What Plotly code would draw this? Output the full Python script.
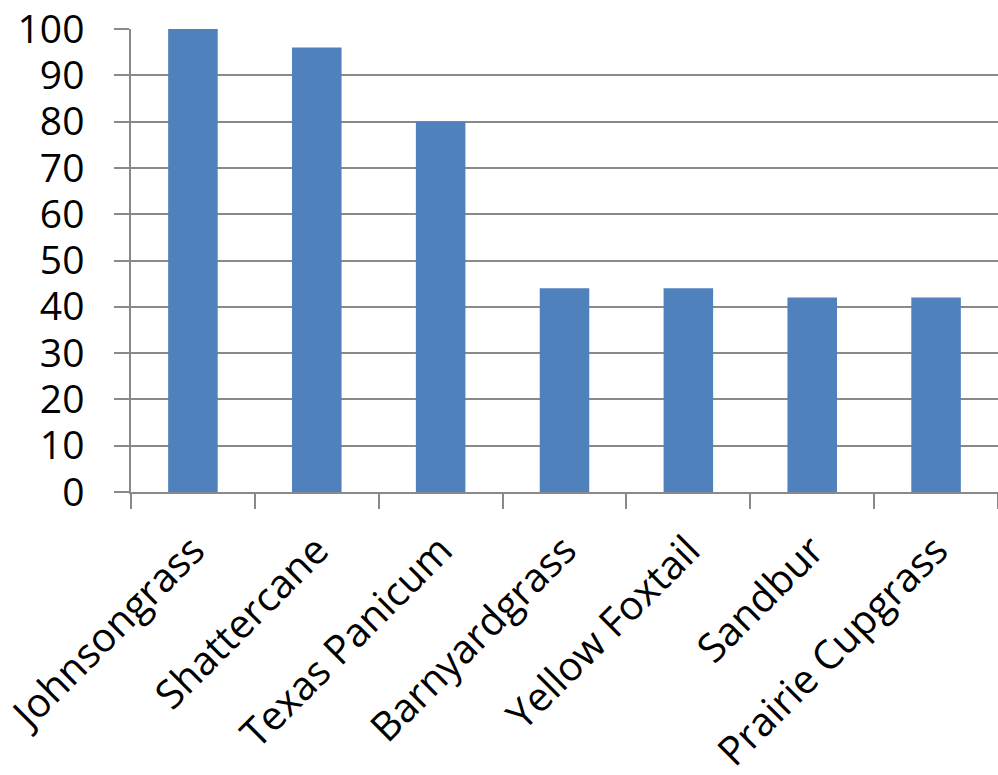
import plotly.graph_objects as go

categories = ["Johnsongrass", "Shattercane", "Texas Panicum", "Barnyardgrass",
              "Yellow Foxtail", "Sandbur", "Prairie Cupgrass"]
values = [100, 96, 80, 44, 44, 42, 42]
y_ticks = [0, 10, 20, 30, 40, 50, 60, 70, 80, 90, 100]

grid = "#898989"
font_family = "Open Sans"

fig = go.Figure(go.Bar(
    x=categories, y=values,
    marker=dict(color="#4F81BD", line=dict(width=0)),
    width=0.4,
))

fig.update_layout(
    width=998, height=775,
    margin=dict(l=131, r=0, t=29, b=283),
    paper_bgcolor="white", plot_bgcolor="white",
    showlegend=False,
    font=dict(family=font_family, size=40, color="black"),
)
fig.update_yaxes(
    range=[0, 100], tickvals=y_ticks,
    automargin=False,
    showgrid=True, gridcolor=grid, gridwidth=1.5,
    showline=True, linecolor=grid, linewidth=1.5,
    ticks="outside", ticklen=15, tickcolor=grid, tickwidth=1.5,
    ticklabelstandoff=22,
    zeroline=False,
    tickfont=dict(family=font_family, size=39, color="black"),
)
fig.update_xaxes(
    automargin=False,
    showgrid=False,
    showline=True, linecolor=grid, linewidth=1.5,
    ticks="outside", ticklen=15, tickcolor=grid, tickwidth=1.5,
    tickson="boundaries",
    tickangle=-45,
    ticklabelstandoff=17,
    tickfont=dict(family=font_family, size=40, color="black"),
)

fig.write_html("out.html")
